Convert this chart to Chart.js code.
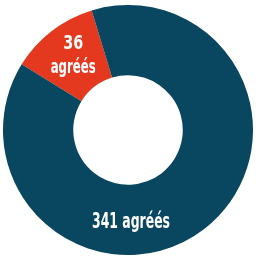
<!DOCTYPE html>
<html>
<head>
<meta charset="utf-8">
<script src="https://cdn.jsdelivr.net/npm/chart.js@4"></script>
<style>
  html, body { margin: 0; padding: 0; background: #ffffff; }
  #c { display: block; }
</style>
</head>
<body>
<canvas id="c" width="259" height="256"></canvas>
<script>
// Data
const categories = ['36 agréés', '341 agréés'];
const counts = [36, 341];
// Share of the ring each slice covers in the picture (percent)
const sliceShares = [11.5, 88.5];
const sliceColors = ['#e4391f', '#08475f'];

const labelPlugin = {
  id: 'sliceLabels',
  afterDatasetsDraw(chart, args, opts) {
    const ctx = chart.ctx;
    const meta = chart.getDatasetMeta(0);
    ctx.save();
    ctx.fillStyle = '#ffffff';
    ctx.textAlign = 'center';
    ctx.textBaseline = 'alphabetic';
    meta.data.forEach((arc, i) => {
      const p = arc.getProps(['x', 'y', 'startAngle', 'endAngle', 'innerRadius', 'outerRadius'], true);
      const cfg = opts.items[i];
      const ang = cfg.angle !== undefined ? cfg.angle : (p.startAngle + p.endAngle) / 2;
      const r = p.innerRadius + (p.outerRadius - p.innerRadius) * cfg.radial;
      const cx = p.x + Math.cos(ang) * r + (cfg.dx || 0);
      const cy = p.y + Math.sin(ang) * r + (cfg.dy || 0);
      const lines = cfg.lines(i);
      ctx.font = 'bold ' + cfg.size + 'px "DejaVu Sans", sans-serif';
      lines.forEach((t, k) => {
        const w = ctx.measureText(t).width;
        const sx = cfg.widths[k] / w;
        ctx.save();
        ctx.translate(cx, cy + k * cfg.lineHeight);
        ctx.scale(sx, 1);
        ctx.fillText(t, 0, 0);
        ctx.restore();
      });
    });
    ctx.restore();
  }
};

new Chart(document.getElementById('c'), {
  type: 'doughnut',
  data: {
    labels: categories,
    datasets: [{
      data: sliceShares,
      backgroundColor: sliceColors,
      borderWidth: 0,
      hoverOffset: 0
    }]
  },
  options: {
    responsive: false,
    animation: false,
    devicePixelRatio: 1,
    rotation: -58.3,
    cutout: '43.8%',
    layout: { padding: { left: 3, right: 6, top: 5, bottom: 1 } },
    plugins: {
      legend: { display: false },
      tooltip: { enabled: false },
      sliceLabels: {
        items: [
          { radial: 0.5, dx: 0, dy: -10, size: 19.5, lineHeight: 24, widths: [20, 45],
            lines: (i) => [String(counts[i]), 'agréés'] },
          { angle: Math.PI / 2, radial: 0.52, dx: 3, dy: 7, size: 21, lineHeight: 0, widths: [78],
            lines: (i) => [counts[i] + ' agréés'] }
        ]
      }
    }
  },
  plugins: [labelPlugin]
});
</script>
</body>
</html>
